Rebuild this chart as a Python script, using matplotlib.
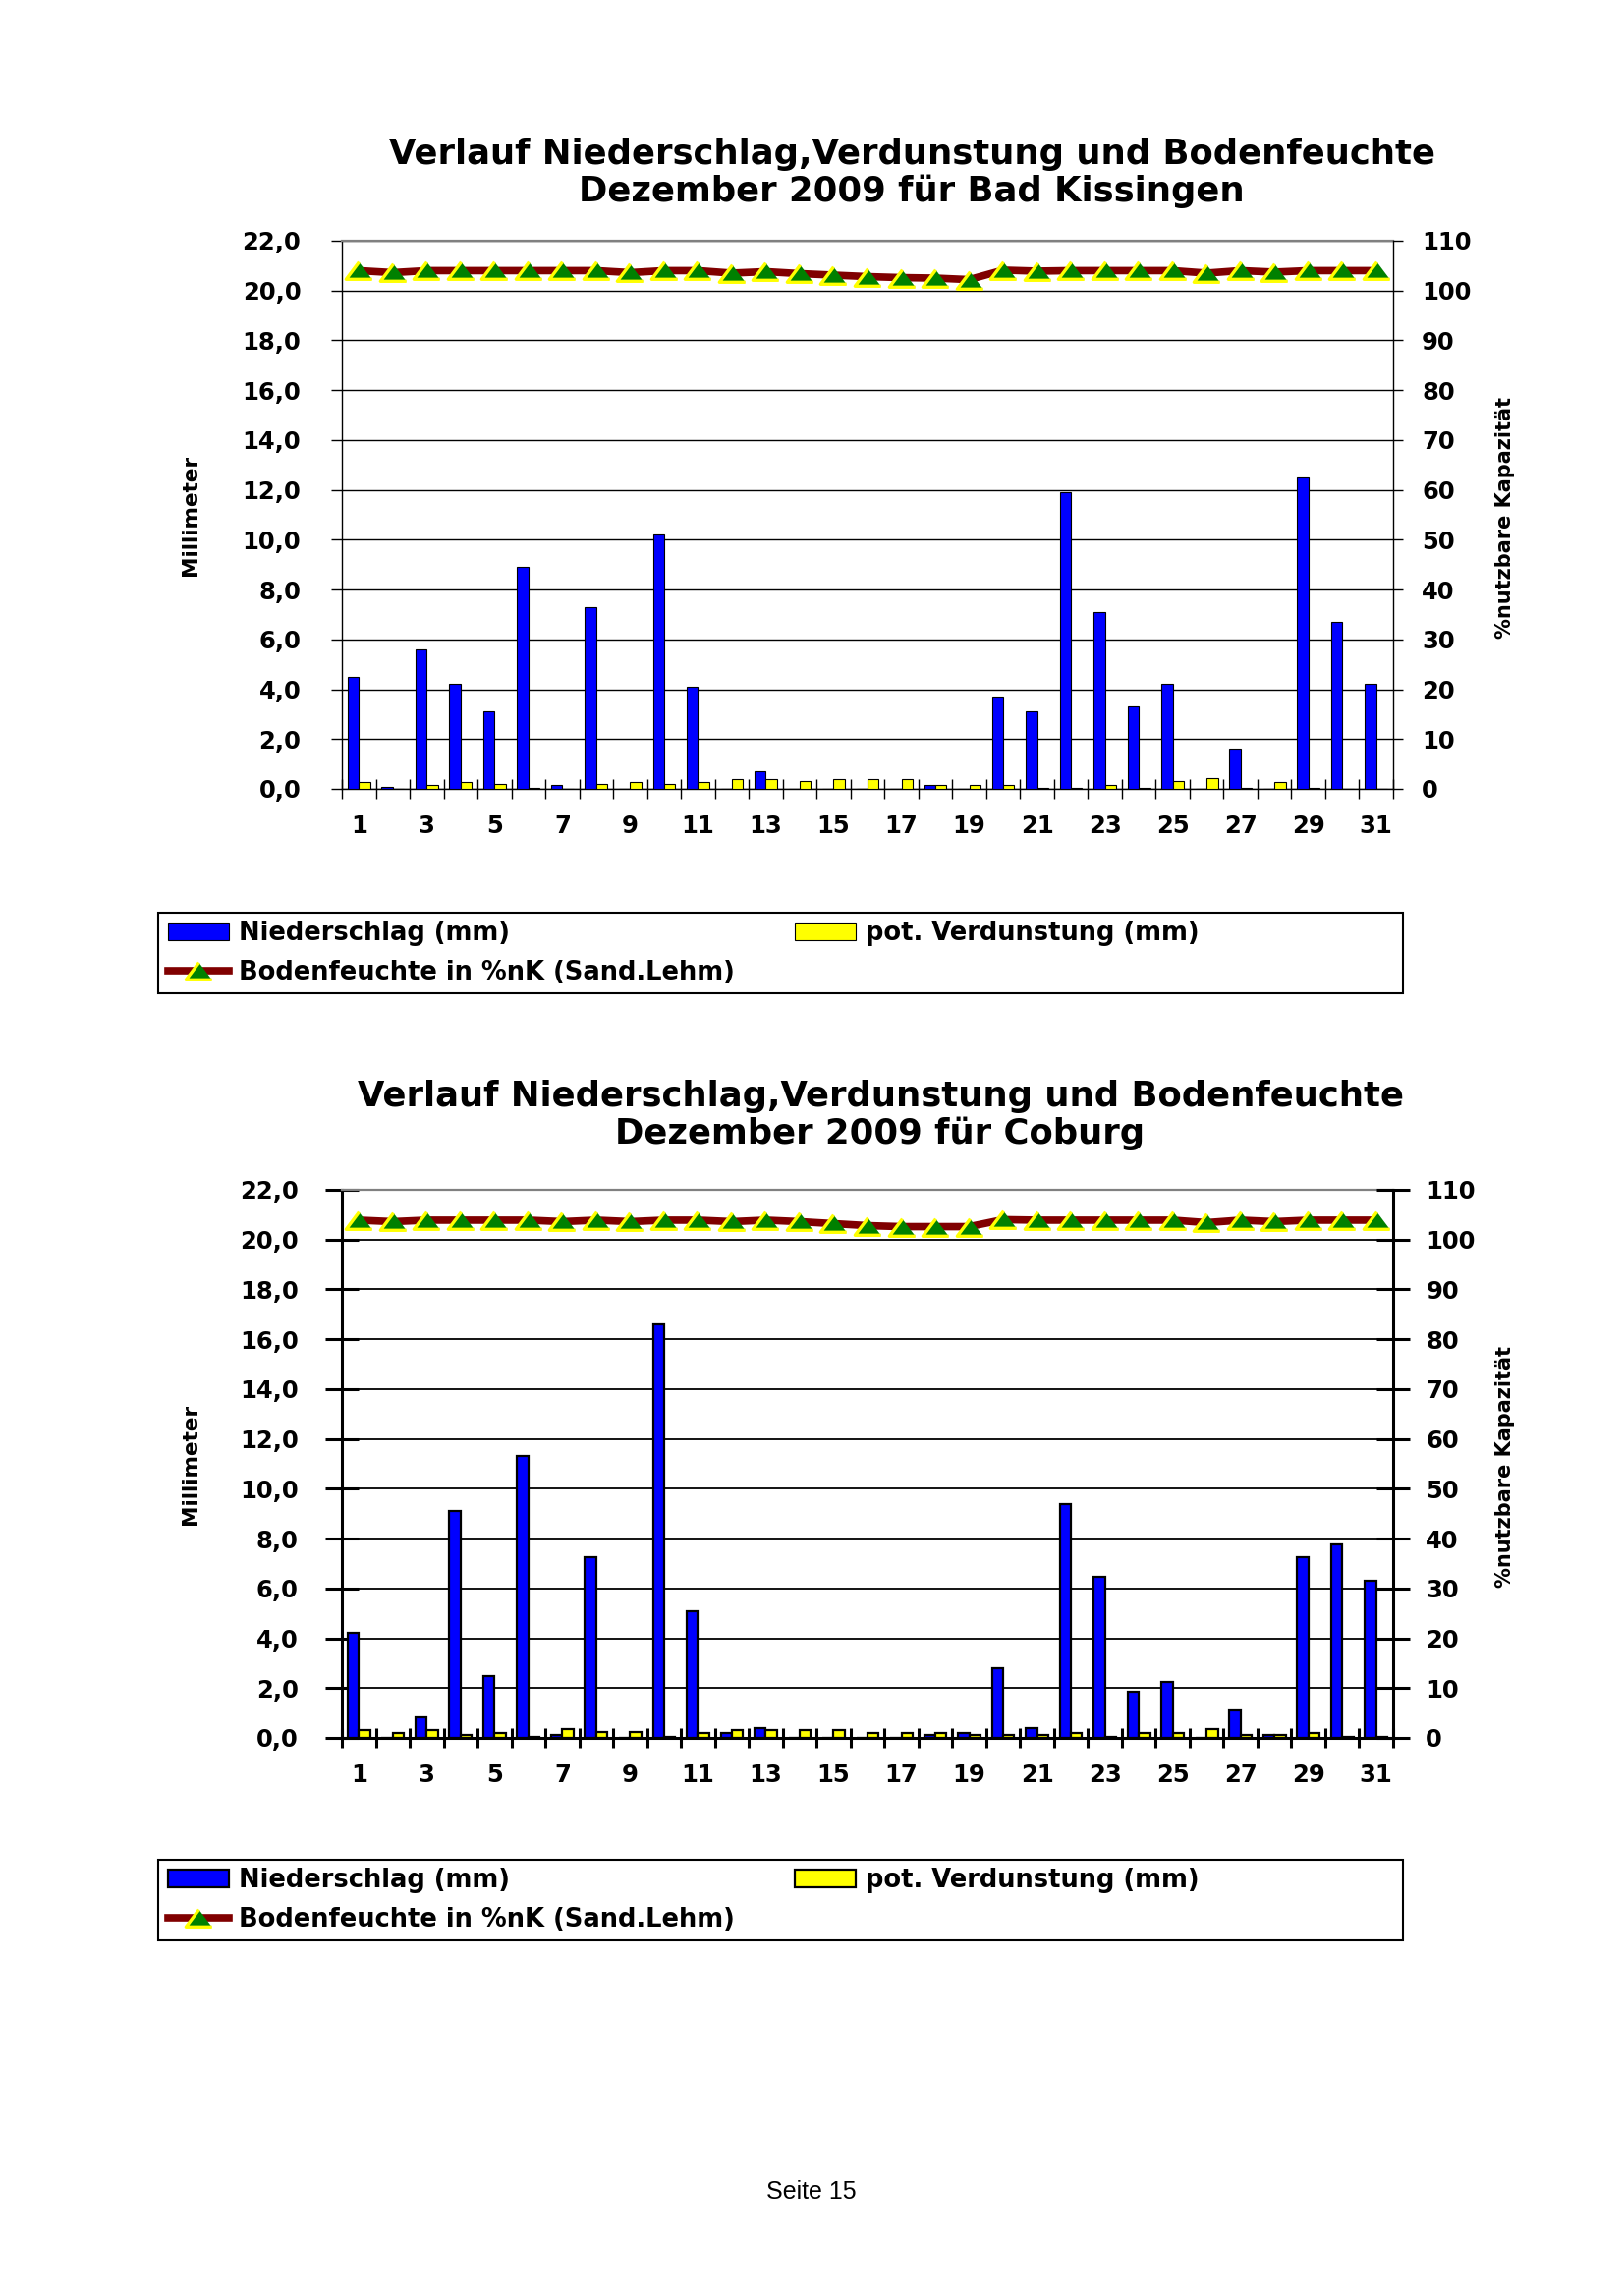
import numpy as np
import matplotlib.pyplot as plt
from matplotlib.patches import Rectangle
from matplotlib.ticker import FuncFormatter

plt.rcParams['font.family'] = ['DejaVu Sans']
plt.rcParams['font.weight'] = 'bold'

days = np.arange(1, 32)

# Bad Kissingen, Dezember 2009
nied_kis = [4.5, 0.08, 5.6, 4.2, 3.1, 8.9, 0.15, 7.3, 0.0, 10.2, 4.1, 0.0, 0.7, 0.0, 0.0, 0.0,
            0.0, 0.15, 0.0, 3.7, 3.1, 11.9, 7.1, 3.3, 4.2, 0.0, 1.6, 0.0, 12.5, 6.7, 4.2]
verd_kis = [0.26, 0.0, 0.15, 0.26, 0.18, 0.05, 0.0, 0.18, 0.26, 0.18, 0.26, 0.38, 0.38, 0.3, 0.38, 0.38,
            0.38, 0.15, 0.15, 0.15, 0.05, 0.05, 0.15, 0.05, 0.3, 0.45, 0.05, 0.26, 0.05, 0.0, 0.0]
boden_kis = [104.0, 103.6, 104.0, 104.0, 104.0, 104.0, 104.0, 104.0, 103.6, 104.0, 104.0, 103.5, 103.8,
             103.4, 103.1, 102.8, 102.6, 102.5, 102.2, 104.1, 103.9, 104.0, 104.0, 104.0, 104.0, 103.5,
             104.0, 103.7, 104.0, 104.0, 104.0]

# Coburg, Dezember 2009
nied_cob = [4.2, 0.0, 0.83, 9.1, 2.5, 11.3, 0.1, 7.25, 0.0, 16.6, 5.1, 0.2, 0.38, 0.0, 0.0, 0.0,
            0.0, 0.1, 0.2, 2.8, 0.38, 9.4, 6.45, 1.85, 2.25, 0.0, 1.12, 0.1, 7.25, 7.75, 6.3]
verd_cob = [0.32, 0.2, 0.32, 0.1, 0.2, 0.05, 0.35, 0.23, 0.23, 0.05, 0.2, 0.32, 0.32, 0.32, 0.32, 0.2,
            0.2, 0.2, 0.1, 0.1, 0.1, 0.2, 0.05, 0.2, 0.2, 0.35, 0.1, 0.1, 0.2, 0.05, 0.05]
boden_cob = [103.9, 103.6, 103.9, 103.9, 103.9, 103.9, 103.6, 103.9, 103.6, 103.9, 103.9, 103.6, 103.9,
             103.6, 103.2, 102.8, 102.6, 102.6, 102.6, 104.0, 103.9, 103.9, 103.9, 103.9, 103.9, 103.4,
             103.9, 103.6, 103.9, 103.9, 103.9]

title1 = 'Verlauf Niederschlag,Verdunstung und Bodenfeuchte'
lab_nied = 'Niederschlag (mm)'
lab_verd = 'pot. Verdunstung (mm)'
lab_boden = 'Bodenfeuchte in %nK (Sand.Lehm)'

W, H = 1653, 2337
fig = plt.figure(figsize=(W / 100, H / 100), dpi=100)

tri = [(0, 1), (-1.5, -1), (1.5, -1)]


def fx(x):
    return x / W


def fy(y):
    return 1 - y / H


def chart(top, nied, verd, boden, station, tx, ty, leg_top, heavy):
    ax = fig.add_axes([fx(348), fy(top + 558), fx(1418) - fx(348), 558 / H])
    spw = 2.2 if heavy else 1.0
    b1 = ax.bar(days - 0.165, nied, 0.33, color='#0000ff', edgecolor='black',
                lw=1.6 if heavy else 0.8, zorder=3)
    b2 = ax.bar(days + 0.165, verd, 0.33, color='#ffff00', edgecolor='black',
                lw=1.6 if heavy else 0.8, zorder=3)
    ax.set_xlim(0.5, 31.5)
    ax.set_ylim(0, 22)
    ax.set_yticks(np.arange(0, 23, 2))
    ax.yaxis.set_major_formatter(FuncFormatter(lambda v, p: f'{v:.1f}'.replace('.', ',')))
    ax.grid(axis='y', color='black', lw=1.3 if heavy else 1.0)
    ax.set_axisbelow(True)
    ax.set_xticks(days[::2])
    ax.set_xticks(np.arange(0.5, 32, 1), minor=True)
    ax.tick_params(axis='x', which='major', length=0, pad=19, labelsize=17.5)
    ax.tick_params(axis='x', which='minor', direction='inout', length=15, width=spw)
    if heavy:
        ax.tick_params(axis='y', direction='inout', length=24, width=spw, pad=20, labelsize=17.5)
    else:
        ax.tick_params(axis='y', direction='out', length=8, width=spw, pad=22, labelsize=17.5)
    for s in ['left', 'bottom']:
        ax.spines[s].set_linewidth(spw)
    ax.spines['right'].set_visible(False)
    ax.spines['top'].set_color('#808080')
    ax.spines['top'].set_linewidth(1.6)

    ax2 = ax.twinx()
    ln, = ax2.plot(days, boden, color='#800000', lw=5.5, marker=tri, ms=19,
                   mfc='#008000', mec='#ffff00', mew=2.4, zorder=5)
    ax2.set_ylim(0, 110)
    ax2.set_yticks(range(0, 111, 10))
    for s in ['left', 'top', 'bottom']:
        ax2.spines[s].set_visible(False)
    ax2.spines['right'].set_linewidth(spw)
    if heavy:
        ax2.tick_params(axis='y', direction='inout', length=24, width=spw, pad=12, labelsize=17.5)
    else:
        ax2.tick_params(axis='y', direction='out', length=7, width=spw, pad=14, labelsize=17.5)

    mid = top + 279
    fig.text(fx(194), fy(mid), 'Millimeter', rotation=90, ha='center', va='center', fontsize=15.5)
    fig.text(fx(1532), fy(mid + 3), '%nutzbare Kapazität', rotation=90, ha='center', va='center',
             fontsize=15)
    fig.text(fx(tx), fy(ty), title1, ha='center', va='center', fontsize=25.5)
    fig.text(fx(tx), fy(ty + 38), 'Dezember 2009 für ' + station, ha='center', va='center',
             fontsize=25.5)

    fig.add_artist(Rectangle((fx(161), fy(leg_top + 82)), 1267 / W, 82 / H, transform=fig.transFigure,
                             fill=False, ec='black', lw=1.5))
    ax.legend(handles=[b1, ln, b2], labels=[lab_nied, lab_boden, lab_verd], ncol=2, loc='upper left',
              bbox_to_anchor=(fx(171), fy(leg_top + 8)), bbox_transform=fig.transFigure,
              frameon=False, borderpad=0, borderaxespad=0, handlelength=2.4, handletextpad=0.4,
              columnspacing=2.4, labelspacing=0.55, fontsize=18.5)


chart(245, nied_kis, verd_kis, boden_kis, 'Bad Kissingen', 928, 157, 929, False)
chart(1211, nied_cob, verd_cob, boden_cob, 'Coburg', 896, 1116, 1893, True)

fig.text(fx(826), fy(2231), 'Seite 15', ha='center', va='center', fontsize=18,
         fontweight='normal', family=['Liberation Sans', 'DejaVu Sans'])

fig.savefig('out.png', dpi=100)
